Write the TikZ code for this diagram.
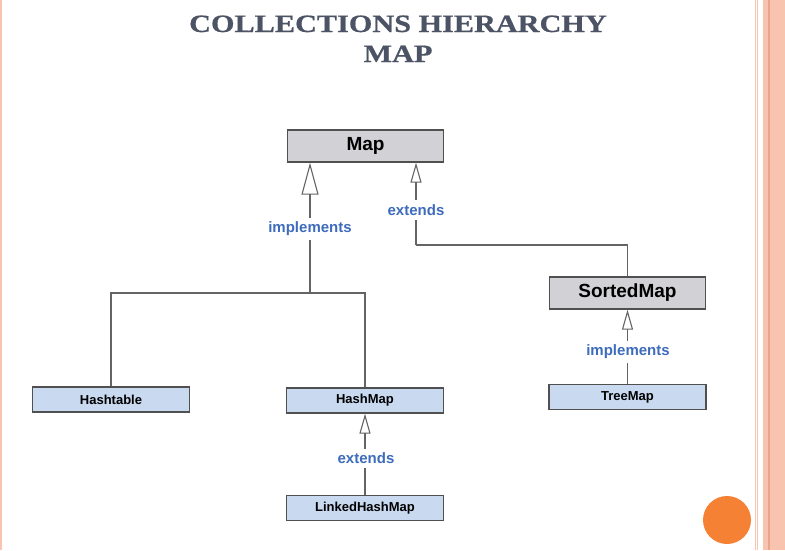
\documentclass[tikz,border=0pt]{standalone}
\usepackage{fontspec}
\setmainfont{Liberation Serif}
\setsansfont{Liberation Sans}
\newfontfamily\titlefont[FakeStretch=1.21,FakeBold=0.6]{Liberation Serif}
\usetikzlibrary{arrows.meta,positioning}

\definecolor{titlegray}{RGB}{75,83,101}
\definecolor{edgegray}{RGB}{80,80,80}
\definecolor{linkgray}{RGB}{100,100,100}
\definecolor{ifacefill}{RGB}{210,210,214}
\definecolor{classfill}{RGB}{201,217,240}
\definecolor{relblue}{RGB}{62,108,188}
\definecolor{salmon}{RGB}{248,196,176}
\definecolor{salmondark}{RGB}{234,166,140}
\definecolor{dotorange}{RGB}{245,130,52}

\begin{document}
\begin{tikzpicture}
[
                  x =  1pt,
                  y = -1pt,
         line width = 1.1pt,
     ifacebox/.style = { draw=edgegray, line width=1.3pt, fill=ifacefill, minimum width=156pt, minimum height=32pt,
                         inner sep=0pt, font=\sffamily\bfseries\fontsize{19}{21}\selectfont },
     classbox/.style = { draw=edgegray, line width=1.3pt, fill=classfill, minimum width=157pt, minimum height=25pt,
                         inner sep=0pt, font=\sffamily\bfseries\fontsize{13}{15}\selectfont },
       rellabel/.style = { fill=white, inner sep=4pt, text=relblue, font=\sffamily\bfseries\fontsize{15}{17}\selectfont },
         link/.style = { draw=linkgray },
     bigarrow/.style = { draw=linkgray, -{Triangle[open, length=32pt, width=17pt]} },
   smallarrow/.style = { draw=linkgray, -{Triangle[open, length=20pt, width=11pt]} },
        title/.style = { anchor=base, text=titlegray, font=\titlefont\bfseries\fontsize{25}{28}\selectfont }
]

    % page frame
    \useasboundingbox (0,0) rectangle (785,550);
    \fill[white] (0,0) rectangle (785,550);
    \draw[salmon, line width=1.5pt] (1,0) -- (1,550);
    \draw[salmon, line width=0.8pt] (755.5,0) -- (755.5,550);
    \draw[salmon, line width=0.8pt] (757.5,0) -- (757.5,550);
    \fill[salmon] (763,0) rectangle (785,550);
    \draw[salmondark, line width=1.5pt] (769,0) -- (769,550);
    \fill[dotorange] (727,520) circle (24);

    \node (Title)    at (398,32) [title] {COLLECTIONS HIERARCHY};
    \node (Subtitle) at (398,62) [title] {MAP};

    \node (Map)           at (365.5,146)  [ifacebox] {Map};
    \node (SortedMap)     at (627.5,293)  [ifacebox] {SortedMap};
    \node (Hashtable)     at (111,399.5)  [classbox] {Hashtable};
    \node (HashMap)       at (365,400.5)  [classbox] {HashMap};
    \node (TreeMap)       at (627.5,397)  [classbox] {TreeMap};
    \node (LinkedHashMap) at (365,508)    [classbox] {LinkedHashMap};

    \coordinate (ImplJoin) at (310,293);
    \coordinate (ExtJoin)  at (416,245);

    \draw[link] (Hashtable.north) |- (ImplJoin);
    \draw[link] (HashMap.north) |- (ImplJoin);
    \draw[bigarrow] (ImplJoin) -- (Map.south -| ImplJoin);
    \draw[link] (SortedMap.north) |- (ExtJoin);
    \draw[smallarrow] (ExtJoin) -- (Map.south -| ExtJoin);
    \draw[smallarrow] (TreeMap.north) -- (SortedMap.south);
    \draw[smallarrow] (LinkedHashMap.north) -- (HashMap.south);

    \node (ImplLabel)       at (310,229) [rellabel] {implements};
    \node (ExtLabel)        at (416,210) [rellabel] {extends};
    \node (SortedImplLabel) at (628,352) [rellabel] {implements};
    \node (HashExtLabel)    at (366,458) [rellabel] {extends};

\end{tikzpicture}
\end{document}
